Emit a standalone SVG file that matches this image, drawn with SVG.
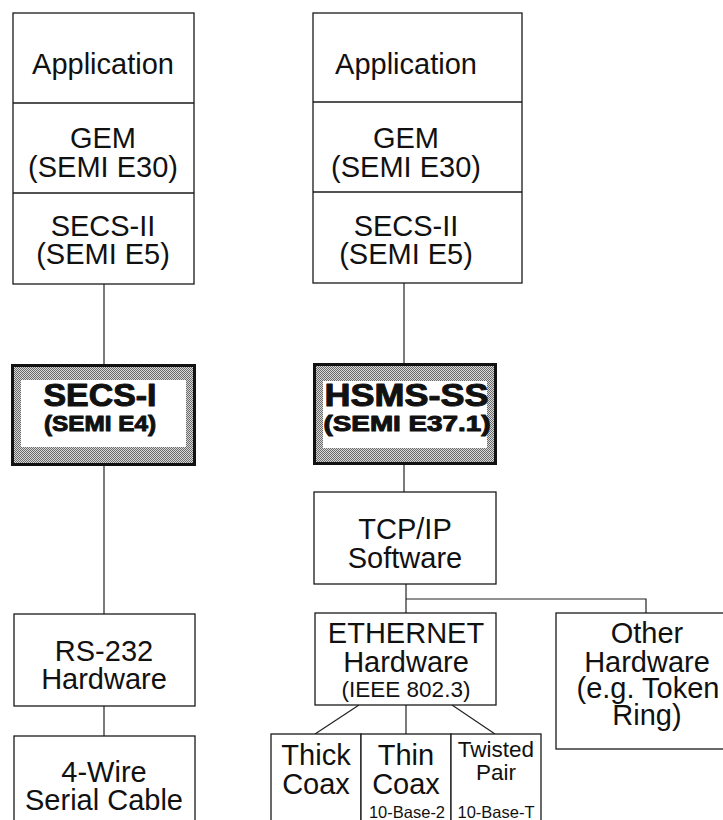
<svg xmlns="http://www.w3.org/2000/svg" width="723" height="820" viewBox="0 0 723 820">
  <style>
    .box { fill: #fff; stroke: #1a1a1a; stroke-width: 1.3; }
    .div { stroke: #1a1a1a; stroke-width: 1.3; fill: none; }
    .t { font-family: "Liberation Sans", Arial, Helvetica, sans-serif; fill: #111; text-anchor: middle; }
    .lg { font-size: 29px; }
    .md { font-size: 22.5px; }
    .sm { font-size: 16.5px; }
    .b { font-weight: bold; stroke: #111; stroke-width: 1; stroke-linejoin: round; }
    .frame { fill: url(#dither); stroke: #111; stroke-width: 3; }
    .inner { fill: #fff; stroke: none; }
    #connectors line, #connectors polyline { stroke: #222; stroke-width: 1.2; fill: none; }
  </style>
  <defs>
    <pattern id="dither" width="2" height="2" patternUnits="userSpaceOnUse">
      <rect width="2" height="2" fill="#d8d8d8"/>
      <rect width="1" height="1" fill="#6a6a6a"/>
      <rect x="1" y="1" width="1" height="1" fill="#6a6a6a"/>
    </pattern>
  </defs>
  <rect width="723" height="820" fill="#fff"/>

  <g id="connectors">
    <line x1="104" y1="284" x2="104" y2="364"/>
    <line x1="104" y1="466" x2="104" y2="614"/>
    <line x1="104" y1="706" x2="104" y2="736"/>
    <line x1="404" y1="283" x2="404" y2="363"/>
    <line x1="404" y1="465" x2="404" y2="492"/>
    <line x1="406" y1="584" x2="406" y2="613"/>
    <polyline points="406,599 646,599 646,613"/>
    <line x1="359" y1="705" x2="315" y2="734"/>
    <line x1="406" y1="705" x2="406" y2="734"/>
    <line x1="452" y1="705" x2="495" y2="734"/>
  </g>

  <!-- left protocol stack -->
  <g id="left-stack">
    <rect class="box" x="13" y="13" width="181" height="271"/>
    <line class="div" x1="13" y1="103" x2="194" y2="103"/>
    <line class="div" x1="13" y1="193" x2="194" y2="193"/>
    <text class="t lg" x="103" y="74">Application</text>
    <text class="t lg" x="103" y="148">GEM</text>
    <text class="t lg" x="103" y="177">(SEMI E30)</text>
    <text class="t lg" x="103" y="236">SECS-II</text>
    <text class="t lg" x="103" y="264">(SEMI E5)</text>
  </g>

  <!-- right protocol stack -->
  <g id="right-stack">
    <rect class="box" x="313" y="13" width="209" height="270"/>
    <line class="div" x1="313" y1="102" x2="522" y2="102"/>
    <line class="div" x1="313" y1="192" x2="522" y2="192"/>
    <text class="t lg" x="406" y="74">Application</text>
    <text class="t lg" x="406" y="148">GEM</text>
    <text class="t lg" x="406" y="177">(SEMI E30)</text>
    <text class="t lg" x="406" y="236">SECS-II</text>
    <text class="t lg" x="406" y="264">(SEMI E5)</text>
  </g>

  <g id="secs-i">
    <rect class="frame" x="12.5" y="365.5" width="182" height="99"/>
    <rect class="inner" x="21" y="380" width="165" height="67"/>
    <text class="t b" x="100" y="406" font-size="30.5" textLength="113" lengthAdjust="spacingAndGlyphs">SECS-I</text>
    <text class="t b" x="100" y="431" font-size="22" textLength="112" lengthAdjust="spacingAndGlyphs">(SEMI E4)</text>
  </g>

  <g id="hsms-ss">
    <rect class="frame" x="314.5" y="364.5" width="181" height="99"/>
    <rect class="inner" x="323" y="381" width="164" height="67"/>
    <text class="t b" x="406.5" y="406" font-size="30.5" textLength="164" lengthAdjust="spacingAndGlyphs">HSMS-SS</text>
    <text class="t b" x="407" y="431" font-size="22" textLength="167" lengthAdjust="spacingAndGlyphs">(SEMI E37.1)</text>
  </g>

  <g id="tcpip">
    <rect class="box" x="314" y="492" width="182" height="92"/>
    <text class="t lg" x="405" y="539">TCP/IP</text>
    <text class="t lg" x="405" y="568">Software</text>
  </g>

  <g id="rs232">
    <rect class="box" x="14" y="614" width="181" height="92"/>
    <text class="t lg" x="104" y="661">RS-232</text>
    <text class="t lg" x="104" y="689">Hardware</text>
  </g>

  <g id="serial-cable">
    <rect class="box" x="14" y="736" width="181" height="100"/>
    <text class="t lg" x="104" y="782">4-Wire</text>
    <text class="t lg" x="104" y="810">Serial Cable</text>
  </g>

  <g id="ethernet">
    <rect class="box" x="315" y="613" width="181" height="92"/>
    <text class="t lg" x="406" y="643">ETHERNET</text>
    <text class="t lg" x="406" y="672">Hardware</text>
    <text class="t md" x="406" y="697">(IEEE 802.3)</text>
  </g>

  <g id="other-hardware">
    <rect class="box" x="556" y="613" width="184" height="136"/>
    <text class="t lg" x="647" y="643">Other</text>
    <text class="t lg" x="647" y="672">Hardware</text>
    <text class="t lg" x="648" y="698">(e.g. Token</text>
    <text class="t lg" x="647" y="725">Ring)</text>
  </g>

  <g id="thick-coax">
    <rect class="box" x="271" y="734" width="90" height="100"/>
    <text class="t lg" x="316" y="765">Thick</text>
    <text class="t lg" x="316" y="794">Coax</text>
  </g>

  <g id="thin-coax">
    <rect class="box" x="361" y="734" width="90" height="100"/>
    <text class="t lg" x="406" y="765">Thin</text>
    <text class="t lg" x="406" y="794">Coax</text>
    <text class="t sm" x="407" y="818">10-Base-2</text>
  </g>

  <g id="twisted-pair">
    <rect class="box" x="451" y="734" width="90" height="100"/>
    <text class="t md" x="496" y="757">Twisted</text>
    <text class="t md" x="496" y="780">Pair</text>
    <text class="t sm" x="496" y="818">10-Base-T</text>
  </g>
</svg>
